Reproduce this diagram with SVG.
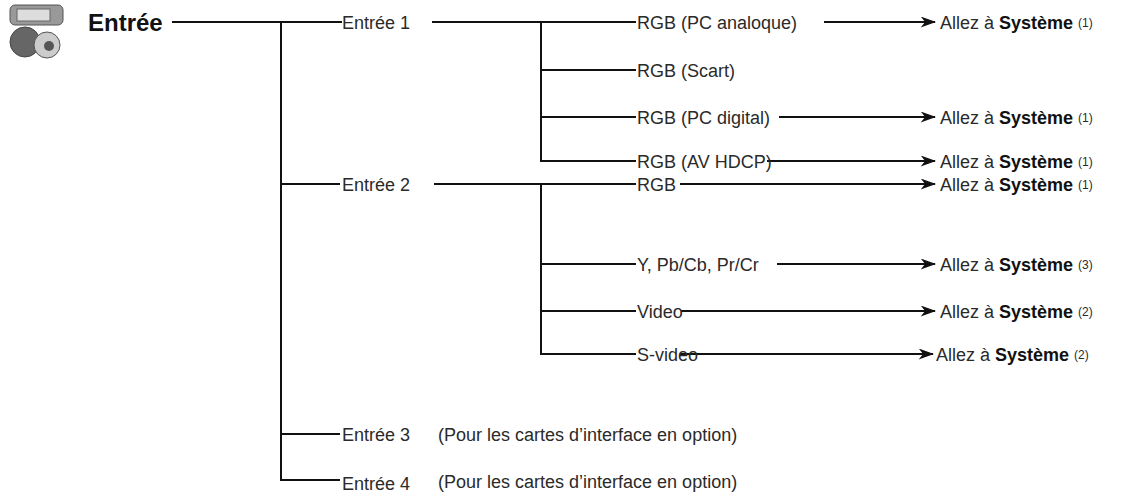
<svg xmlns="http://www.w3.org/2000/svg" width="1132" height="501" viewBox="0 0 1132 501">
<style>
text{font-family:"Liberation Sans",Arial,sans-serif;font-size:18px;fill:#2a2a2a}
.t{font-size:24px;font-weight:bold;fill:#111}
.b{font-weight:bold;fill:#111}
.s{font-size:12px}
.c line{stroke:#111;stroke-width:2}
.a{marker-end:url(#ar)}
</style>
<defs><marker id="ar" viewBox="0 0 14 10" refX="13" refY="5" markerWidth="16" markerHeight="11" markerUnits="userSpaceOnUse" orient="auto"><path d="M0,0L14,5L0,10L4,5z" fill="#111"/></marker></defs>
<g id="icon">
<rect x="10" y="5" width="53" height="20" rx="5" fill="#999" stroke="#555"/>
<rect x="17" y="9" width="33" height="12" fill="#ddd" stroke="#666"/>
<circle cx="25" cy="42" r="15" fill="#666" stroke="#444"/>
<ellipse cx="47" cy="45" rx="13" ry="13" fill="#ccc" stroke="#555"/>
<circle cx="49" cy="46" r="5" fill="#555"/>
</g>
<g class="c">
<line x1="172" y1="22" x2="342" y2="22"/>
<line x1="281" y1="21" x2="281" y2="481"/>
<line x1="281" y1="184" x2="340" y2="184"/>
<line x1="281" y1="434" x2="340" y2="434"/>
<line x1="281" y1="480" x2="340" y2="480"/>
<line x1="432" y1="22" x2="636" y2="22"/>
<line x1="541" y1="21" x2="541" y2="162"/>
<line x1="541" y1="70" x2="636" y2="70"/>
<line x1="541" y1="117" x2="636" y2="117"/>
<line x1="541" y1="161" x2="636" y2="161"/>
<line x1="434" y1="184" x2="636" y2="184"/>
<line x1="541" y1="183" x2="541" y2="355"/>
<line x1="541" y1="264" x2="636" y2="264"/>
<line x1="541" y1="311" x2="636" y2="311"/>
<line x1="541" y1="354" x2="636" y2="354"/>
<line class="a" x1="824" y1="22" x2="935" y2="22"/>
<line class="a" x1="779" y1="117" x2="935" y2="117"/>
<line class="a" x1="767" y1="161" x2="935" y2="161"/>
<line class="a" x1="680" y1="184" x2="935" y2="184"/>
<line class="a" x1="777" y1="264" x2="935" y2="264"/>
<line class="a" x1="681" y1="311" x2="935" y2="311"/>
<line class="a" x1="680" y1="354" x2="933" y2="354"/>
</g>
<g id="n0"><text class="t" x="88" y="31">Entrée</text></g>
<g id="n1"><text x="342" y="29">Entrée 1</text></g>
<g id="n2"><text x="342" y="191">Entrée 2</text></g>
<g id="n3"><text x="342" y="441">Entrée 3</text><text x="438" y="441">(Pour les cartes d’interface en option)</text></g>
<g id="n4"><text x="342" y="490">Entrée 4</text><text x="438" y="488">(Pour les cartes d’interface en option)</text></g>
<g id="n5"><text x="637" y="29">RGB (PC analoque)</text></g>
<g id="n6"><text x="637" y="77">RGB (Scart)</text></g>
<g id="n7"><text x="637" y="124">RGB (PC digital)</text></g>
<g id="n8"><text x="637" y="168">RGB (AV HDCP)</text></g>
<g id="n9"><text x="637" y="191">RGB</text></g>
<g id="n10"><text x="637" y="271">Y, Pb/Cb, Pr/Cr</text></g>
<g id="n11"><text x="637" y="318">Video</text></g>
<g id="n12"><text x="637" y="361">S-video</text></g>
<g id="d1"><text x="940" y="29">Allez à <tspan class="b">Système</tspan> <tspan class="s" dy="-2">(1)</tspan></text></g>
<g id="d2"><text x="940" y="124">Allez à <tspan class="b">Système</tspan> <tspan class="s" dy="-2">(1)</tspan></text></g>
<g id="d3"><text x="940" y="168">Allez à <tspan class="b">Système</tspan> <tspan class="s" dy="-2">(1)</tspan></text></g>
<g id="d4"><text x="940" y="191">Allez à <tspan class="b">Système</tspan> <tspan class="s" dy="-2">(1)</tspan></text></g>
<g id="d5"><text x="940" y="271">Allez à <tspan class="b">Système</tspan> <tspan class="s" dy="-2">(3)</tspan></text></g>
<g id="d6"><text x="940" y="318">Allez à <tspan class="b">Système</tspan> <tspan class="s" dy="-2">(2)</tspan></text></g>
<g id="d7"><text x="936" y="361">Allez à <tspan class="b">Système</tspan> <tspan class="s" dy="-2">(2)</tspan></text></g>
</svg>
